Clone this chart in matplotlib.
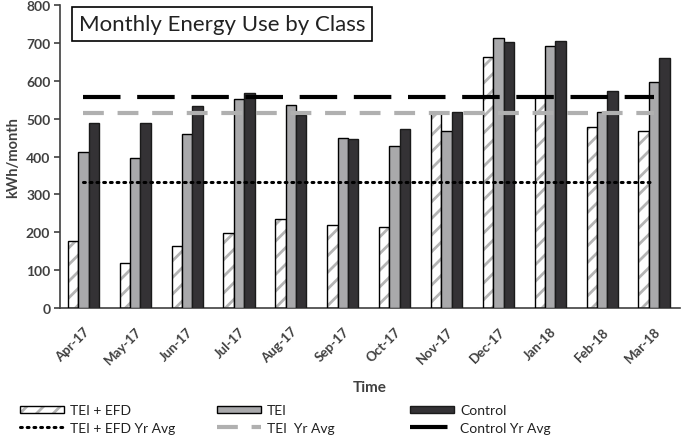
import numpy as np
import matplotlib
matplotlib.use("Agg")
import matplotlib.pyplot as plt
from matplotlib.legend_handler import HandlerTuple
from matplotlib.transforms import ScaledTranslation

plt.rcParams['font.family'] = ['Lato', 'DejaVu Sans']
plt.rcParams['hatch.linewidth'] = 2.0

# data
months = ["Apr-17", "May-17", "Jun-17", "Jul-17", "Aug-17", "Sep-17",
          "Oct-17", "Nov-17", "Dec-17", "Jan-18", "Feb-18", "Mar-18"]
tei_efd = [178, 118, 165, 197, 234, 220, 215, 518, 664, 560, 477, 468]
tei = [413, 395, 459, 553, 536, 450, 427, 467, 714, 691, 518, 596]
control = [488, 488, 533, 569, 511, 447, 474, 519, 703, 706, 573, 660]
tei_efd_avg = 332
tei_avg = 516
control_avg = 557

x = np.arange(len(months))
w = 0.2

fig = plt.figure(figsize=(6.85, 4.39), dpi=100)
ax = fig.add_axes([0.0876, 0.296, 0.905, 0.69])

# hatched bars: grey hatch first, then black outline on top
ax.bar(x - w, tei_efd, w, color="white", edgecolor="#b4b4b4", hatch="//", linewidth=0, zorder=2)
efd_outline = ax.bar(x - w, tei_efd, w, facecolor="none", edgecolor="black", linewidth=1.0, zorder=3)
efd_hatch = ax.bar([0], [0], w, color="white", edgecolor="#b4b4b4", hatch="//", linewidth=0)
tei_bars = ax.bar(x, tei, w, color="#a9a9ab", edgecolor="black", linewidth=1.0, zorder=3)
ctrl_bars = ax.bar(x + w, control, w, color="#343235", edgecolor="#1a1a1a", linewidth=1.0, zorder=3)

line_efd, = ax.plot([x[0], x[-1]], [tei_efd_avg] * 2, color="black", linestyle=(0, (0.6, 1.6)),
                    linewidth=2.2, dash_capstyle="round", zorder=4)
line_tei, = ax.plot([x[0], x[-1]], [tei_avg] * 2, color="#b0b0b0", linestyle=(0, (5, 3.3)),
                    linewidth=3, zorder=4)
line_ctrl, = ax.plot([x[0], x[-1]], [control_avg] * 2, color="black", linestyle=(0, (9, 4)),
                     linewidth=3, zorder=4)

ax.set_xlim(-0.45, 11.5)
ax.set_ylim(0, 800)
ax.set_yticks(range(0, 801, 100))
ax.set_xticks(x)
ax.set_xticklabels(months, rotation=45, ha="right", rotation_mode="anchor")
shift = ScaledTranslation(0.08, 0, fig.dpi_scale_trans)
for lab in ax.get_xticklabels():
    lab.set_transform(lab.get_transform() + shift)
for lab in ax.get_yticklabels():
    lab.set_fontsize(10)
for lab in ax.get_xticklabels():
    lab.set_fontsize(9.5)
for lab in ax.get_xticklabels() + ax.get_yticklabels():
    lab.set_fontweight("bold")
    lab.set_color("#404040")
ax.tick_params(axis="x", length=0, pad=12)
ax.tick_params(axis="y", length=4, width=1.2, color="#404040", pad=3)

for s in ["top", "right"]:
    ax.spines[s].set_visible(False)
ax.spines["left"].set_linewidth(1.2)
ax.spines["bottom"].set_linewidth(1.2)
ax.spines["left"].set_color("#404040")
ax.spines["bottom"].set_color("#404040")

ax.set_ylabel("kWh/month", fontweight="bold", fontsize=10.5, color="#404040", labelpad=4)
ax.set_xlabel("Time", fontweight="bold", fontsize=11, color="#404040", labelpad=10)

ax.text(0.03, 0.97, "Monthly Energy Use by Class", transform=ax.transAxes, fontsize=16,
        color="#222222", ha="left", va="top",
        bbox=dict(facecolor="white", edgecolor="black", linewidth=1.2, pad=5))

# three legend columns with equal spacing, like the original
columns = [
    ([(efd_hatch[0], efd_outline[0]), line_efd], ["TEI + EFD", "TEI + EFD Yr Avg"], 20),
    ([tei_bars[0], line_tei], ["TEI", "TEI  Yr Avg"], 217),
    ([ctrl_bars[0], line_ctrl], ["Control", "Control Yr Avg"], 410),
]
for hs, ls, px in columns:
    leg = fig.legend(hs, ls, loc="upper left", bbox_to_anchor=(px / 685, 1 - 405 / 439),
                     frameon=False, fontsize=10, handlelength=3.2, handleheight=0.4,
                     handletextpad=0.4, labelspacing=0.4, borderpad=0, borderaxespad=0,
                     handler_map={tuple: HandlerTuple(ndivide=1)})
    for t in leg.get_texts():
        t.set_color("#222222")

fig.savefig("out.png", dpi=100)
